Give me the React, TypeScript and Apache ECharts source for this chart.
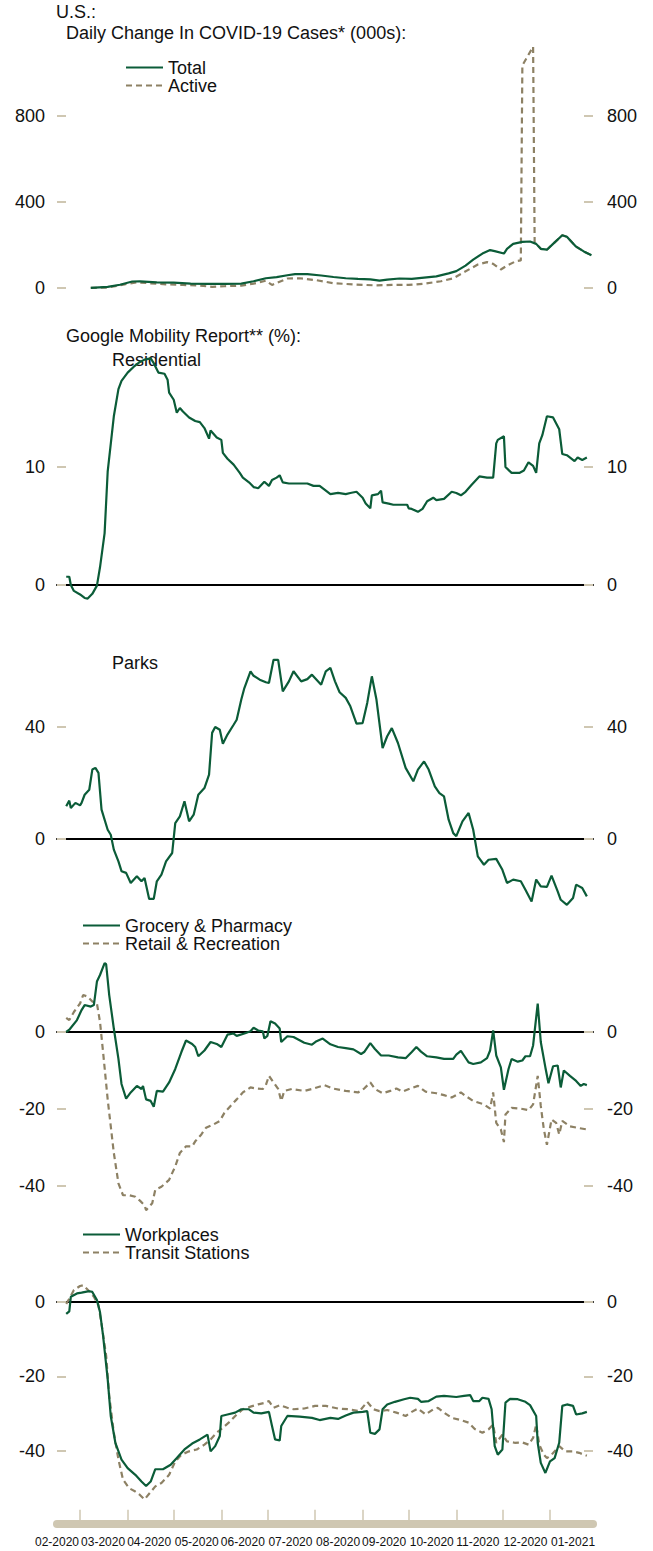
import { useEffect, useRef } from "react";
import * as echarts from "echarts";

// ---------- Data ----------
type P = [string, number];

const monthLabels = ["02-2020", "03-2020", "04-2020", "05-2020", "06-2020", "07-2020", "08-2020", "09-2020", "10-2020", "11-2020", "12-2020", "01-2021"];
const monthLabelDates = ["2020-02-15", "2020-03-16", "2020-04-15", "2020-05-16", "2020-06-15", "2020-07-16", "2020-08-16", "2020-09-15", "2020-10-16", "2020-11-15", "2020-12-16", "2021-01-16"];
const monthTickDates = ["2020-03-01", "2020-04-01", "2020-05-01", "2020-06-01", "2020-07-01", "2020-08-01", "2020-09-01", "2020-10-01", "2020-11-01", "2020-12-01", "2021-01-01"];
const axisStart = "2020-02-15";
const axisEnd = "2021-01-29";

const casesTicks = [0, 400, 800];
const residentialTicks = [0, 10];
const parksTicks = [0, 40];
const retailTicks = [-40, -20, 0];
const workTicks = [-40, -20, 0];

const totalCases: P[] = [
  ["2020-03-08", 0], ["2020-03-19", 5], ["2020-03-27", 15], ["2020-04-04", 30], ["2020-04-09", 31], ["2020-04-20", 26],
  ["2020-05-01", 25], ["2020-05-12", 20], ["2020-05-23", 19], ["2020-06-03", 19], ["2020-06-14", 20], ["2020-06-22", 31],
  ["2020-06-30", 45], ["2020-07-07", 50], ["2020-07-14", 59], ["2020-07-19", 64], ["2020-07-27", 64], ["2020-08-05", 58],
  ["2020-08-13", 51], ["2020-08-21", 45], ["2020-08-29", 42], ["2020-09-06", 40], ["2020-09-12", 34], ["2020-09-17", 39],
  ["2020-09-25", 44], ["2020-10-03", 42], ["2020-10-11", 48], ["2020-10-19", 54], ["2020-10-27", 68], ["2020-11-01", 78],
  ["2020-11-07", 104], ["2020-11-12", 132], ["2020-11-18", 160], ["2020-11-23", 176], ["2020-11-26", 171], ["2020-12-02", 160],
  ["2020-12-04", 182], ["2020-12-08", 205], ["2020-12-14", 214], ["2020-12-19", 216], ["2020-12-23", 205], ["2020-12-26", 182],
  ["2020-12-30", 178], ["2021-01-03", 205], ["2021-01-09", 245], ["2021-01-12", 238], ["2021-01-18", 192], ["2021-01-23", 170],
  ["2021-01-28", 152],
];
const activeCases: P[] = [
  ["2020-03-08", 0], ["2020-03-19", 2], ["2020-03-30", 17], ["2020-04-07", 26], ["2020-04-15", 22], ["2020-04-26", 17],
  ["2020-05-07", 14], ["2020-05-18", 11], ["2020-05-26", 5], ["2020-06-03", 8], ["2020-06-14", 11], ["2020-06-22", 20],
  ["2020-06-30", 34], ["2020-07-04", 14], ["2020-07-07", 23], ["2020-07-14", 44], ["2020-07-22", 45], ["2020-08-02", 36],
  ["2020-08-13", 22], ["2020-08-27", 16], ["2020-09-09", 12], ["2020-09-20", 14], ["2020-10-01", 14], ["2020-10-11", 20],
  ["2020-10-22", 31], ["2020-10-30", 45], ["2020-11-04", 65], ["2020-11-10", 89], ["2020-11-15", 109], ["2020-11-21", 120],
  ["2020-11-25", 112], ["2020-11-30", 86], ["2020-12-04", 104], ["2020-12-10", 125], ["2020-12-13", 128], ["2020-12-14", 1035],
  ["2020-12-21", 1122], ["2020-12-22", 212], ["2020-12-23", 205], ["2020-12-26", 182], ["2020-12-30", 178], ["2021-01-03", 205],
  ["2021-01-09", 245], ["2021-01-12", 238], ["2021-01-18", 192], ["2021-01-23", 170], ["2021-01-28", 152],
];
const residential: P[] = [
  ["2020-02-21", 0.7], ["2020-02-23", 0.7], ["2020-02-24", 0.0], ["2020-02-26", -0.5], ["2020-03-01", -0.8], ["2020-03-04", -1.1],
  ["2020-03-06", -1.15], ["2020-03-09", -0.75], ["2020-03-12", -0.05], ["2020-03-14", 1.5], ["2020-03-17", 4.4], ["2020-03-19", 9.6],
  ["2020-03-23", 14.3], ["2020-03-26", 16.6], ["2020-03-28", 17.3], ["2020-04-01", 18.0], ["2020-04-05", 18.5], ["2020-04-09", 18.9],
  ["2020-04-12", 19.1], ["2020-04-16", 19.2], ["2020-04-18", 18.8], ["2020-04-21", 18.0], ["2020-04-25", 17.9], ["2020-04-27", 17.4],
  ["2020-04-28", 16.3], ["2020-05-01", 15.7], ["2020-05-03", 14.6], ["2020-05-05", 15.0], ["2020-05-07", 14.7], ["2020-05-11", 14.2],
  ["2020-05-15", 13.9], ["2020-05-18", 13.8], ["2020-05-21", 13.3], ["2020-05-24", 12.4], ["2020-05-25", 13.1], ["2020-05-29", 12.5],
  ["2020-06-01", 12.3], ["2020-06-02", 11.2], ["2020-06-05", 10.7], ["2020-06-09", 10.2], ["2020-06-13", 9.5], ["2020-06-15", 9.1],
  ["2020-06-19", 8.7], ["2020-06-22", 8.3], ["2020-06-25", 8.2], ["2020-06-29", 8.75], ["2020-07-02", 8.4], ["2020-07-04", 8.9],
  ["2020-07-07", 9.1], ["2020-07-09", 9.3], ["2020-07-11", 8.7], ["2020-07-15", 8.6], ["2020-07-27", 8.6], ["2020-07-31", 8.4],
  ["2020-08-04", 8.4], ["2020-08-07", 8.1], ["2020-08-11", 7.7], ["2020-08-16", 7.8], ["2020-08-21", 7.7], ["2020-08-24", 7.8],
  ["2020-08-28", 7.9], ["2020-09-01", 7.4], ["2020-09-03", 6.9], ["2020-09-06", 6.5], ["2020-09-07", 7.6], ["2020-09-11", 7.7],
  ["2020-09-13", 8.0], ["2020-09-14", 7.0], ["2020-09-18", 6.9], ["2020-09-21", 6.8], ["2020-09-30", 6.8], ["2020-10-01", 6.5],
  ["2020-10-03", 6.45], ["2020-10-07", 6.2], ["2020-10-10", 6.45], ["2020-10-13", 7.1], ["2020-10-17", 7.4], ["2020-10-19", 7.2],
  ["2020-10-24", 7.3], ["2020-10-29", 7.9], ["2020-11-01", 7.8], ["2020-11-04", 7.6], ["2020-11-07", 7.9], ["2020-11-11", 8.5],
  ["2020-11-16", 9.2], ["2020-11-21", 9.1], ["2020-11-25", 9.1], ["2020-11-27", 12.0], ["2020-11-28", 12.3], ["2020-12-02", 12.6],
  ["2020-12-03", 10.0], ["2020-12-07", 9.5], ["2020-12-12", 9.5], ["2020-12-15", 9.7], ["2020-12-18", 10.4], ["2020-12-21", 10.1],
  ["2020-12-23", 9.5], ["2020-12-25", 12.0], ["2020-12-27", 12.7], ["2020-12-30", 14.3], ["2021-01-03", 14.2], ["2021-01-07", 13.2],
  ["2021-01-09", 11.1], ["2021-01-12", 11.0], ["2021-01-17", 10.5], ["2021-01-19", 10.8], ["2021-01-22", 10.6], ["2021-01-25", 10.8],
];
const parks: P[] = [
  ["2020-02-21", 11.7], ["2020-02-23", 13.7], ["2020-02-24", 11.1], ["2020-02-27", 12.9], ["2020-03-01", 12.0], ["2020-03-02", 12.9],
  ["2020-03-04", 15.8], ["2020-03-07", 17.6], ["2020-03-09", 24.8], ["2020-03-11", 25.4], ["2020-03-13", 23.6], ["2020-03-15", 10.5],
  ["2020-03-19", 3.3], ["2020-03-21", 1.5], ["2020-03-23", -3.8], ["2020-03-26", -8.0], ["2020-03-28", -11.5], ["2020-03-31", -12.1],
  ["2020-04-03", -15.7], ["2020-04-07", -13.3], ["2020-04-10", -15.1], ["2020-04-12", -13.9], ["2020-04-15", -21.4], ["2020-04-18", -21.4],
  ["2020-04-20", -15.1], ["2020-04-23", -12.7], ["2020-04-26", -8.0], ["2020-04-30", -5.0], ["2020-05-02", 5.7], ["2020-05-05", 8.1],
  ["2020-05-08", 13.5], ["2020-05-11", 6.3], ["2020-05-14", 8.7], ["2020-05-17", 15.8], ["2020-05-21", 18.2], ["2020-05-24", 23.0],
  ["2020-05-26", 37.9], ["2020-05-28", 40.0], ["2020-05-31", 39.0], ["2020-06-02", 34.0], ["2020-06-05", 37.3], ["2020-06-09", 40.8],
  ["2020-06-11", 42.6], ["2020-06-14", 49.8], ["2020-06-16", 53.9], ["2020-06-20", 59.9], ["2020-06-22", 58.3], ["2020-06-26", 56.9],
  ["2020-06-30", 56.0], ["2020-07-02", 55.7], ["2020-07-05", 64.0], ["2020-07-08", 64.0], ["2020-07-11", 52.7], ["2020-07-15", 56.3],
  ["2020-07-18", 59.9], ["2020-07-23", 56.3], ["2020-07-27", 57.1], ["2020-07-30", 58.7], ["2020-08-02", 56.9], ["2020-08-05", 55.1],
  ["2020-08-08", 59.9], ["2020-08-11", 61.1], ["2020-08-14", 56.3], ["2020-08-17", 52.4], ["2020-08-21", 50.4], ["2020-08-24", 47.4],
  ["2020-08-28", 41.2], ["2020-09-01", 41.4], ["2020-09-04", 48.6], ["2020-09-07", 58.1], ["2020-09-10", 49.8], ["2020-09-14", 32.5],
  ["2020-09-17", 36.7], ["2020-09-20", 39.6], ["2020-09-24", 34.3], ["2020-09-29", 25.4], ["2020-10-04", 20.6], ["2020-10-07", 24.8],
  ["2020-10-11", 27.7], ["2020-10-14", 24.8], ["2020-10-18", 18.8], ["2020-10-21", 16.4], ["2020-10-24", 15.2], ["2020-10-27", 6.9],
  ["2020-10-30", 2.1], ["2020-11-01", 1.0], ["2020-11-05", 6.3], ["2020-11-09", 9.3], ["2020-11-12", 3.3], ["2020-11-15", -6.2],
  ["2020-11-19", -9.2], ["2020-11-22", -7.4], ["2020-11-27", -7.1], ["2020-12-01", -11.0], ["2020-12-04", -15.7], ["2020-12-08", -14.5],
  ["2020-12-13", -15.1], ["2020-12-16", -18.1], ["2020-12-20", -22.3], ["2020-12-23", -14.5], ["2020-12-26", -16.9], ["2020-12-30", -17.1],
  ["2021-01-02", -13.1], ["2021-01-06", -18.7], ["2021-01-08", -21.7], ["2021-01-12", -23.5], ["2021-01-16", -21.1], ["2021-01-18", -16.3],
  ["2021-01-22", -17.5], ["2021-01-25", -20.5],
];
const grocery: P[] = [
  ["2020-02-21", 0], ["2020-02-23", 0.6], ["2020-02-28", 3.1], ["2020-03-02", 5.7], ["2020-03-04", 7.0], ["2020-03-08", 6.6],
  ["2020-03-10", 7.0], ["2020-03-12", 13.1], ["2020-03-14", 14.8], ["2020-03-17", 17.9], ["2020-03-18", 17.6], ["2020-03-20", 9.6],
  ["2020-03-23", 0.9], ["2020-03-26", -7.0], ["2020-03-28", -13.5], ["2020-03-31", -17.3], ["2020-04-03", -15.7], ["2020-04-07", -14.0],
  ["2020-04-10", -14.8], ["2020-04-11", -14.0], ["2020-04-13", -17.5], ["2020-04-16", -17.9], ["2020-04-18", -19.4], ["2020-04-20", -15.3],
  ["2020-04-24", -15.5], ["2020-04-28", -13.1], ["2020-05-02", -9.6], ["2020-05-06", -5.2], ["2020-05-09", -2.2], ["2020-05-13", -3.1],
  ["2020-05-15", -3.9], ["2020-05-17", -6.3], ["2020-05-21", -4.8], ["2020-05-25", -2.6], ["2020-05-29", -3.1], ["2020-06-01", -3.9],
  ["2020-06-05", -0.7], ["2020-06-09", -0.4], ["2020-06-11", -1.0], ["2020-06-16", -0.4], ["2020-06-20", 0.2], ["2020-06-22", 1.1],
  ["2020-06-25", 0.4], ["2020-06-28", 0.2], ["2020-06-29", -1.7], ["2020-07-01", -1.0], ["2020-07-03", 2.8], ["2020-07-06", 2.2],
  ["2020-07-09", 0.9], ["2020-07-10", -2.6], ["2020-07-14", -1.1], ["2020-07-18", -1.3], ["2020-07-25", -2.8], ["2020-07-30", -3.3],
  ["2020-08-02", -2.4], ["2020-08-06", -1.7], ["2020-08-11", -3.2], ["2020-08-16", -3.9], ["2020-08-21", -4.2], ["2020-08-26", -4.5],
  ["2020-08-31", -5.7], ["2020-09-02", -5.2], ["2020-09-06", -2.9], ["2020-09-09", -4.4], ["2020-09-13", -6.1], ["2020-09-18", -6.1],
  ["2020-09-24", -6.6], ["2020-09-29", -6.8], ["2020-10-03", -5.2], ["2020-10-06", -3.9], ["2020-10-09", -5.1], ["2020-10-13", -6.3],
  ["2020-10-19", -6.6], ["2020-10-24", -7.0], ["2020-10-30", -7.0], ["2020-11-01", -5.9], ["2020-11-04", -4.9], ["2020-11-06", -6.1],
  ["2020-11-09", -7.9], ["2020-11-12", -8.3], ["2020-11-17", -7.9], ["2020-11-21", -6.8], ["2020-11-23", -4.8], ["2020-11-25", 0.4],
  ["2020-11-27", -6.1], ["2020-11-30", -9.2], ["2020-12-02", -15.0], ["2020-12-05", -9.6], ["2020-12-07", -7.0], ["2020-12-11", -7.7],
  ["2020-12-14", -7.4], ["2020-12-16", -6.3], ["2020-12-19", -6.3], ["2020-12-21", -3.5], ["2020-12-24", 7.4], ["2020-12-26", -2.6],
  ["2020-12-29", -9.2], ["2020-12-31", -13.3], ["2021-01-03", -8.9], ["2021-01-06", -8.7], ["2021-01-08", -14.4], ["2021-01-10", -10.0],
  ["2021-01-14", -11.4], ["2021-01-18", -12.7], ["2021-01-21", -14.0], ["2021-01-23", -13.5], ["2021-01-25", -13.8],
];
const retail: P[] = [
  ["2020-02-21", 3.7], ["2020-02-23", 3.1], ["2020-02-26", 5.2], ["2020-03-01", 7.4], ["2020-03-03", 9.6], ["2020-03-06", 9.2],
  ["2020-03-09", 7.9], ["2020-03-12", 7.4], ["2020-03-14", 2.6], ["2020-03-16", -5.2], ["2020-03-19", -17.5], ["2020-03-23", -31.4],
  ["2020-03-26", -39.3], ["2020-03-29", -42.4], ["2020-04-02", -42.4], ["2020-04-06", -42.8], ["2020-04-09", -43.8], ["2020-04-12", -45.0],
  ["2020-04-13", -46.3], ["2020-04-17", -44.5], ["2020-04-19", -41.0], ["2020-04-23", -40.2], ["2020-04-28", -38.4], ["2020-05-02", -34.9],
  ["2020-05-05", -31.4], ["2020-05-09", -29.7], ["2020-05-13", -29.7], ["2020-05-15", -28.4], ["2020-05-19", -26.6], ["2020-05-22", -24.9],
  ["2020-05-27", -24.0], ["2020-05-31", -23.1], ["2020-06-03", -21.0], ["2020-06-07", -19.2], ["2020-06-11", -17.5], ["2020-06-15", -15.7],
  ["2020-06-20", -14.4], ["2020-06-24", -14.7], ["2020-06-28", -14.8], ["2020-06-30", -13.8], ["2020-07-02", -11.4], ["2020-07-05", -13.1],
  ["2020-07-08", -14.8], ["2020-07-10", -17.9], ["2020-07-12", -15.3], ["2020-07-17", -14.8], ["2020-07-25", -15.3], ["2020-07-30", -14.8],
  ["2020-08-07", -13.8], ["2020-08-13", -14.7], ["2020-08-21", -15.3], ["2020-08-29", -15.7], ["2020-09-02", -14.7], ["2020-09-06", -13.1],
  ["2020-09-09", -14.8], ["2020-09-14", -15.9], ["2020-09-19", -15.3], ["2020-09-23", -14.7], ["2020-09-27", -15.5], ["2020-10-02", -14.7],
  ["2020-10-07", -14.0], ["2020-10-12", -15.5], ["2020-10-19", -15.9], ["2020-10-24", -16.4], ["2020-10-29", -17.0], ["2020-11-04", -15.7],
  ["2020-11-07", -16.6], ["2020-11-12", -17.9], ["2020-11-19", -18.8], ["2020-11-23", -19.9], ["2020-11-25", -15.7], ["2020-11-27", -23.6],
  ["2020-11-30", -25.3], ["2020-12-02", -28.6], ["2020-12-03", -21.4], ["2020-12-07", -19.7], ["2020-12-13", -19.9], ["2020-12-18", -20.3],
  ["2020-12-21", -18.8], ["2020-12-24", -11.4], ["2020-12-26", -19.2], ["2020-12-28", -25.3], ["2020-12-30", -29.3], ["2021-01-02", -22.7],
  ["2021-01-05", -23.6], ["2021-01-07", -26.6], ["2021-01-09", -23.1], ["2021-01-14", -24.5], ["2021-01-19", -24.9], ["2021-01-25", -25.3],
];
const workplaces: P[] = [
  ["2020-02-21", -3.2], ["2020-02-23", -2.5], ["2020-02-24", 1.4], ["2020-02-28", 2.3], ["2020-03-02", 2.5], ["2020-03-07", 2.9],
  ["2020-03-09", 2.7], ["2020-03-12", 0.5], ["2020-03-14", -2.7], ["2020-03-16", -9.0], ["2020-03-19", -20.7], ["2020-03-21", -30.6],
  ["2020-03-24", -37.8], ["2020-03-28", -42.3], ["2020-04-01", -44.6], ["2020-04-06", -46.4], ["2020-04-10", -48.2], ["2020-04-13", -49.4],
  ["2020-04-16", -48.2], ["2020-04-19", -44.9], ["2020-04-24", -44.9], ["2020-04-29", -43.7], ["2020-05-03", -41.9], ["2020-05-08", -39.6],
  ["2020-05-13", -38.0], ["2020-05-18", -36.9], ["2020-05-23", -35.6], ["2020-05-25", -40.1], ["2020-05-28", -38.7], ["2020-05-31", -36.0],
  ["2020-06-01", -30.6], ["2020-06-05", -30.2], ["2020-06-10", -29.7], ["2020-06-14", -28.8], ["2020-06-19", -28.8], ["2020-06-22", -29.7],
  ["2020-06-27", -29.9], ["2020-07-02", -29.5], ["2020-07-04", -33.3], ["2020-07-06", -36.9], ["2020-07-09", -37.2], ["2020-07-10", -33.3],
  ["2020-07-14", -30.6], ["2020-07-22", -30.8], ["2020-07-30", -31.1], ["2020-08-04", -31.7], ["2020-08-11", -31.1], ["2020-08-16", -31.4],
  ["2020-08-21", -30.5], ["2020-08-26", -29.7], ["2020-09-01", -29.5], ["2020-09-04", -29.3], ["2020-09-06", -35.1], ["2020-09-09", -35.4],
  ["2020-09-12", -34.2], ["2020-09-14", -28.8], ["2020-09-17", -27.5], ["2020-09-22", -26.8], ["2020-09-28", -26.1], ["2020-10-02", -25.7],
  ["2020-10-07", -26.0], ["2020-10-09", -26.8], ["2020-10-14", -26.6], ["2020-10-19", -25.4], ["2020-10-24", -25.2], ["2020-11-01", -25.5],
  ["2020-11-06", -25.2], ["2020-11-10", -25.0], ["2020-11-12", -26.6], ["2020-11-16", -26.6], ["2020-11-18", -25.7], ["2020-11-22", -26.0],
  ["2020-11-24", -28.8], ["2020-11-26", -38.7], ["2020-11-28", -41.0], ["2020-12-01", -39.6], ["2020-12-03", -27.0], ["2020-12-06", -26.0],
  ["2020-12-11", -26.1], ["2020-12-16", -26.8], ["2020-12-19", -27.7], ["2020-12-23", -30.6], ["2020-12-24", -37.8], ["2020-12-26", -43.2],
  ["2020-12-29", -45.9], ["2021-01-01", -42.8], ["2021-01-04", -41.9], ["2021-01-07", -37.8], ["2021-01-09", -27.9], ["2021-01-12", -27.5],
  ["2021-01-16", -27.9], ["2021-01-18", -30.2], ["2021-01-22", -29.9], ["2021-01-25", -29.5],
];
const transit: P[] = [
  ["2020-02-21", -0.5], ["2020-02-23", 0.9], ["2020-02-26", 3.2], ["2020-03-01", 4.3], ["2020-03-03", 4.5], ["2020-03-07", 2.9],
  ["2020-03-10", 1.4], ["2020-03-13", -0.9], ["2020-03-15", -5.9], ["2020-03-18", -14.4], ["2020-03-20", -25.2], ["2020-03-23", -35.1],
  ["2020-03-26", -42.3], ["2020-03-29", -47.7], ["2020-04-02", -50.0], ["2020-04-06", -50.9], ["2020-04-09", -51.8], ["2020-04-12", -53.0],
  ["2020-04-15", -51.5], ["2020-04-19", -49.5], ["2020-04-23", -48.6], ["2020-04-28", -46.4], ["2020-05-02", -42.8], ["2020-05-06", -41.0],
  ["2020-05-11", -40.1], ["2020-05-16", -39.6], ["2020-05-21", -38.3], ["2020-05-25", -36.9], ["2020-05-29", -35.1], ["2020-06-01", -34.1],
  ["2020-06-06", -32.3], ["2020-06-11", -30.2], ["2020-06-15", -28.8], ["2020-06-20", -28.1], ["2020-06-25", -27.5], ["2020-06-30", -27.0],
  ["2020-07-02", -26.6], ["2020-07-05", -28.4], ["2020-07-09", -27.7], ["2020-07-14", -28.4], ["2020-07-18", -28.8], ["2020-07-25", -28.6],
  ["2020-08-01", -27.9], ["2020-08-08", -27.9], ["2020-08-16", -28.6], ["2020-08-23", -28.8], ["2020-08-30", -29.3], ["2020-09-04", -26.8],
  ["2020-09-08", -28.8], ["2020-09-12", -29.3], ["2020-09-17", -29.0], ["2020-09-23", -29.7], ["2020-09-29", -30.6], ["2020-10-03", -29.5],
  ["2020-10-07", -28.6], ["2020-10-12", -30.2], ["2020-10-17", -28.8], ["2020-10-20", -28.4], ["2020-10-24", -29.7], ["2020-10-29", -31.1],
  ["2020-11-04", -31.7], ["2020-11-09", -32.4], ["2020-11-13", -34.1], ["2020-11-18", -35.1], ["2020-11-22", -34.2], ["2020-11-25", -32.9],
  ["2020-11-27", -37.8], ["2020-12-01", -35.6], ["2020-12-04", -37.4], ["2020-12-09", -37.8], ["2020-12-14", -37.7], ["2020-12-18", -38.3],
  ["2020-12-21", -36.5], ["2020-12-23", -32.9], ["2020-12-25", -38.3], ["2020-12-28", -41.0], ["2020-12-30", -41.9], ["2021-01-02", -41.0],
  ["2021-01-07", -38.7], ["2021-01-11", -40.1], ["2021-01-16", -40.1], ["2021-01-20", -40.5], ["2021-01-25", -41.3],
];

// ---------- Styling ----------
const GREEN = "#0b5c38";
const KHAKI = "#8d8164";
const BEIGE = "#cfc7b2";
const TEXT = "#111111";
const FONT = "'Liberation Sans', Arial, Helvetica, sans-serif";

const DAY = 86400000;
const dayOf = (s: string) => {
  const [y, m, d] = s.split("-").map(Number);
  const [y0, m0, d0] = axisStart.split("-").map(Number);
  return Math.round((Date.UTC(y, m - 1, d) - Date.UTC(y0, m0 - 1, d0)) / DAY);
};
const toXY = (arr: P[]) => arr.map(([d, v]) => [dayOf(d), v]);

export default function App() {
  const ref = useRef<HTMLDivElement>(null);

  useEffect(() => {
    if (!ref.current) return;
    const chart = echarts.init(ref.current, undefined, { renderer: "svg" });

    const xMin = 0;
    const xMax = dayOf(axisEnd);
    const tickDays = monthTickDates.map(dayOf);
    const labelDays = monthLabelDates.map(dayOf);

    const panels: { top: number; height: number; min: number; max: number; ticks: number[]; zero: boolean }[] = [
      { top: 45, height: 247.25, min: -20, max: 1130, ticks: casesTicks, zero: false },
      { top: 349, height: 259.6, min: -2, max: 20, ticks: residentialTicks, zero: true },
      { top: 657, height: 252, min: -25, max: 65, ticks: parksTicks, zero: true },
      { top: 958.85, height: 257.95, min: -48, max: 19, ticks: retailTicks, zero: true },
      { top: 1279.65, height: 227.2, min: -55, max: 6, ticks: workTicks, zero: true },
    ];

    const grid = panels.map((p) => ({ left: 57, right: 60, top: p.top, height: p.height, containLabel: false }));

    const xAxis: any[] = panels.map((p, i) => ({
      type: "value",
      gridIndex: i,
      min: xMin,
      max: xMax,
      position: "bottom",
      axisLine: { show: p.zero, onZero: true, lineStyle: { color: "#000", width: 2 } },
      axisTick: { show: false },
      axisLabel: { show: false },
      splitLine: { show: false },
    }));
    xAxis.push({
      type: "value",
      gridIndex: 4,
      min: xMin,
      max: xMax,
      position: "bottom",
      offset: 17,
      axisLine: { show: true, onZero: false, lineStyle: { color: BEIGE, width: 8 } },
      axisTick: { show: true, inside: true, length: 14, customValues: tickDays, lineStyle: { color: BEIGE, width: 1.5 } },
      axisLabel: {
        show: true,
        customValues: labelDays,
        hideOverlap: false,
        showMinLabel: true,
        showMaxLabel: true,
        margin: 12,
        fontFamily: FONT,
        fontSize: 12,
        color: TEXT,
        formatter: (v: number) => {
          const k = labelDays.indexOf(Math.round(v));
          return k >= 0 ? monthLabels[k] : "";
        },
      },
      splitLine: { show: false },
    });

    const yAxis: any[] = [];
    panels.forEach((p, i) => {
      (["left", "right"] as const).forEach((pos) => {
        yAxis.push({
          type: "value",
          gridIndex: i,
          position: pos,
          min: p.min,
          max: p.max,
          axisLine: { show: false, onZero: false },
          axisTick: { show: true, inside: true, length: 9, customValues: p.ticks, lineStyle: { color: BEIGE, width: 2 } },
          axisLabel: {
            show: true,
            customValues: p.ticks,
            margin: pos === "left" ? 12 : 14,
            fontFamily: FONT,
            fontSize: 18,
            color: TEXT,
          },
          splitLine: { show: false },
        });
      });
    });

    const line = (name: string, data: P[], panel: number, dashed: boolean) => ({
      name,
      type: "line",
      xAxisIndex: panel,
      yAxisIndex: panel * 2,
      data: toXY(data),
      showSymbol: false,
      symbol: "none",
      smooth: false,
      lineStyle: { color: dashed ? KHAKI : GREEN, width: 2.2, type: dashed ? [6, 4] : "solid" },
      itemStyle: { color: dashed ? KHAKI : GREEN },
      emphasis: { disabled: true },
      z: dashed ? 2 : 3,
    });

    const series = [
      line("Active", activeCases, 0, true),
      line("Total", totalCases, 0, false),
      line("Residential", residential, 1, false),
      line("Parks", parks, 2, false),
      line("Retail & Recreation", retail, 3, true),
      line("Grocery & Pharmacy", grocery, 3, false),
      line("Transit Stations", transit, 4, true),
      line("Workplaces", workplaces, 4, false),
    ];

    const legendBase = {
      orient: "vertical",
      itemWidth: 37,
      itemHeight: 14,
      itemGap: 0,
      padding: 0,
      selectedMode: false,
      itemStyle: { opacity: 0 },
      textStyle: { fontFamily: FONT, fontSize: 18, color: TEXT, lineHeight: 17 },
    };
    const legend = [
      { ...legendBase, left: 125, top: 58.5, data: ["Total", "Active"] },
      { ...legendBase, left: 82, top: 916.5, data: ["Grocery & Pharmacy", "Retail & Recreation"] },
      { ...legendBase, left: 82, top: 1225.5, data: ["Workplaces", "Transit Stations"] },
    ];

    const title = (text: string, x: number, y: number) => ({
      type: "text",
      x,
      y,
      silent: true,
      style: { text, fill: TEXT, font: `18px ${FONT}`, verticalAlign: "middle", align: "left" },
    });

    chart.setOption({
      animation: false,
      backgroundColor: "#ffffff",
      grid,
      xAxis,
      yAxis,
      legend,
      series,
      graphic: [
        title("U.S.:", 56, 12),
        title("Daily Change In COVID-19 Cases* (000s):", 66, 33),
        title("Google Mobility Report** (%):", 66, 336),
        title("Residential", 112, 360),
        title("Parks", 112, 663),
      ],
    });

    return () => chart.dispose();
  }, []);

  return <div ref={ref} style={{ position: "absolute", left: 0, top: 0, width: 653, height: 1551 }} />;
}
